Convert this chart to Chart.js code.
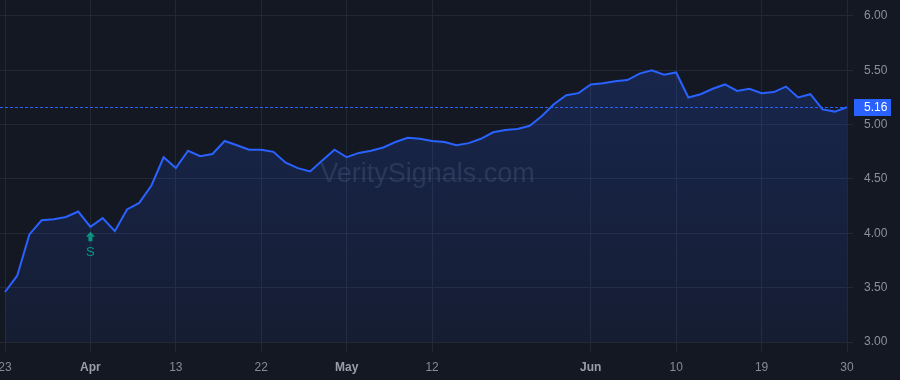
<!DOCTYPE html>
<html>
<head>
<meta charset="utf-8">
<script src="https://cdn.jsdelivr.net/npm/chart.js@4.4.1/dist/chart.umd.min.js"></script>
<style>
  html, body { margin: 0; padding: 0; background: #141823; }
  #wrap { width: 900px; height: 380px; }
</style>
</head>
<body>
<div id="wrap"><canvas id="priceChart" width="900" height="380"></canvas></div>
<script>
// trading days shown on the chart
const dates = [
  '2026-03-23', '2026-03-24', '2026-03-25', '2026-03-26', '2026-03-27', '2026-03-30', '2026-03-31',
  '2026-04-01', '2026-04-02', '2026-04-06', '2026-04-07', '2026-04-08', '2026-04-09', '2026-04-10',
  '2026-04-13', '2026-04-14', '2026-04-15', '2026-04-16', '2026-04-17', '2026-04-20', '2026-04-21',
  '2026-04-22', '2026-04-23', '2026-04-24', '2026-04-27', '2026-04-28', '2026-04-29', '2026-04-30',
  '2026-05-01', '2026-05-04', '2026-05-05', '2026-05-06', '2026-05-07', '2026-05-08', '2026-05-11',
  '2026-05-12', '2026-05-13', '2026-05-14', '2026-05-15', '2026-05-18', '2026-05-19', '2026-05-20',
  '2026-05-21', '2026-05-22', '2026-05-26', '2026-05-27', '2026-05-28', '2026-05-29',
  '2026-06-01', '2026-06-02', '2026-06-03', '2026-06-04', '2026-06-05', '2026-06-08', '2026-06-09',
  '2026-06-10', '2026-06-11', '2026-06-12', '2026-06-15', '2026-06-16', '2026-06-17', '2026-06-18',
  '2026-06-19', '2026-06-22', '2026-06-23', '2026-06-24', '2026-06-25', '2026-06-26', '2026-06-29',
  '2026-06-30'
];

// closing prices
const prices = [
  3.46, 3.61, 3.99, 4.12, 4.13, 4.15, 4.20,
  4.06, 4.14, 4.02, 4.22, 4.28, 4.44, 4.70,
  4.60, 4.76, 4.71, 4.73, 4.85, 4.81, 4.77,
  4.77, 4.75, 4.65, 4.60, 4.57, 4.67, 4.77,
  4.70, 4.74, 4.76, 4.79, 4.84, 4.88, 4.87,
  4.85, 4.84, 4.81, 4.83, 4.87, 4.93, 4.95,
  4.96, 4.99, 5.08, 5.19, 5.27, 5.29,
  5.37, 5.38, 5.40, 5.41, 5.47, 5.50, 5.46,
  5.48, 5.25, 5.28, 5.33, 5.37, 5.31, 5.33,
  5.29, 5.30, 5.35, 5.25, 5.28, 5.14, 5.12,
  5.16
];

const tickDates = ['2026-03-23', '2026-04-01', '2026-04-13', '2026-04-22', '2026-05-01',
                   '2026-05-12', '2026-06-01', '2026-06-10', '2026-06-19', '2026-06-30'];
const tickLabels = ['23', 'Apr', '13', '22', 'May', '12', 'Jun', '10', '19', '30'];
const monthLabels = ['Apr', 'May', 'Jun'];
const yTicks = [3.0, 3.5, 4.0, 4.5, 5.0, 5.5, 6.0];

const signalDates = ['2026-04-01'];
const signalLabels = ['S'];

const FONT = '"Liberation Sans", Arial, sans-serif';
const BG = '#141823';
const GRID = '#242835';
const LINE = '#2962ff';
const TEAL = '#089981';

const tickIdx = tickDates.map(d => dates.indexOf(d));
const points = prices.map((p, i) => ({ x: i, y: p }));

const overlay = {
  id: 'overlay',
  beforeDraw(chart) {
    const c = chart.ctx;
    c.save();
    c.fillStyle = BG;
    c.fillRect(0, 0, chart.width, chart.height);
    c.restore();
  },
  beforeDatasetsDraw(chart) {
    const c = chart.ctx;
    const a = chart.chartArea;
    c.save();
    c.font = '27px ' + FONT;
    c.fillStyle = 'rgba(150, 160, 190, 0.18)';
    c.textAlign = 'center';
    c.textBaseline = 'alphabetic';
    c.fillText('VeritySignals.com', (a.left + a.right) / 2 + 4, 182);
    c.restore();
  },
  afterDatasetsDraw(chart) {
    const c = chart.ctx;
    const a = chart.chartArea;
    const xs = chart.scales.x;
    const ys = chart.scales.y;

    // last price line
    const last = prices[prices.length - 1];
    const ly = Math.round(ys.getPixelForValue(last)) + 0.5;
    c.save();
    c.strokeStyle = LINE;
    c.lineWidth = 1;
    c.setLineDash([3, 2]);
    c.beginPath();
    c.moveTo(a.left, ly);
    c.lineTo(a.right, ly);
    c.stroke();
    c.restore();

    // signal markers
    signalDates.forEach((d, k) => {
      const i = dates.indexOf(d);
      const px = xs.getPixelForValue(i);
      const py = ys.getPixelForValue(prices[i]);
      c.save();
      c.fillStyle = TEAL;
      c.beginPath();
      c.moveTo(px, py + 5);
      c.lineTo(px - 4.5, py + 10);
      c.lineTo(px + 4.5, py + 10);
      c.closePath();
      c.fill();
      c.fillRect(px - 2, py + 10, 4, 4.5);
      c.font = '13px ' + FONT;
      c.textAlign = 'center';
      c.textBaseline = 'top';
      c.fillText(signalLabels[k], px, py + 19);
      c.restore();
    });
  },
  afterDraw(chart) {
    const c = chart.ctx;
    const a = chart.chartArea;
    const ys = chart.scales.y;
    const last = prices[prices.length - 1];
    const ly = ys.getPixelForValue(last);
    c.save();
    c.fillStyle = LINE;
    c.fillRect(a.right + 7, Math.round(ly) - 8, 37, 17);
    c.fillStyle = '#ffffff';
    c.font = '12px ' + FONT;
    c.textAlign = 'left';
    c.textBaseline = 'middle';
    c.fillText(last.toFixed(2), a.right + 17, ly + 0.5);
    c.restore();
  }
};

new Chart(document.getElementById('priceChart').getContext('2d'), {
  type: 'line',
  data: {
    datasets: [{
      data: points,
      borderColor: LINE,
      borderWidth: 2,
      pointRadius: 0,
      tension: 0,
      fill: 'start',
      backgroundColor: (ctx) => {
        const { ctx: g, chartArea } = ctx.chart;
        if (!chartArea) return 'rgba(41, 98, 255, 0.15)';
        const grad = g.createLinearGradient(0, chartArea.top, 0, chartArea.bottom);
        grad.addColorStop(0, 'rgba(41, 98, 255, 0.22)');
        grad.addColorStop(1, 'rgba(41, 98, 255, 0.07)');
        return grad;
      }
    }]
  },
  options: {
    responsive: false,
    animation: false,
    layout: { padding: 0 },
    plugins: {
      legend: { display: false },
      tooltip: { enabled: false }
    },
    scales: {
      x: {
        type: 'linear',
        min: -0.41,
        max: dates.length - 1,
        afterBuildTicks: (scale) => {
          scale.ticks = tickIdx.map(v => ({ value: v }));
        },
        afterFit: (scale) => {
          scale.height = 38;
          scale.paddingLeft = 0;
          scale.paddingRight = 0;
        },
        grid: { color: GRID, drawTicks: true, tickLength: 10 },
        border: { display: false },
        ticks: {
          autoSkip: false,
          maxRotation: 0,
          padding: 8,
          color: (ctx) => monthLabels.includes(tickLabels[ctx.index]) ? '#9b9ea7' : '#878b95',
          font: (ctx) => ({
            family: FONT,
            size: 12,
            weight: monthLabels.includes(tickLabels[ctx.index]) ? 'bold' : 'normal'
          }),
          callback: (v) => tickLabels[tickIdx.indexOf(v)]
        }
      },
      y: {
        position: 'right',
        min: 3.0,
        max: 6.147,
        afterBuildTicks: (scale) => {
          scale.ticks = yTicks.map(v => ({ value: v }));
        },
        afterFit: (scale) => {
          scale.width = 53;
          scale.paddingTop = 0;
          scale.paddingBottom = 0;
        },
        grid: { color: GRID, drawTicks: true, tickLength: 6 },
        border: { display: true, color: GRID },
        ticks: {
          padding: 11,
          color: '#8c9099',
          font: { family: FONT, size: 12 },
          callback: (v) => v.toFixed(2)
        }
      }
    }
  },
  plugins: [overlay]
});
</script>
</body>
</html>
